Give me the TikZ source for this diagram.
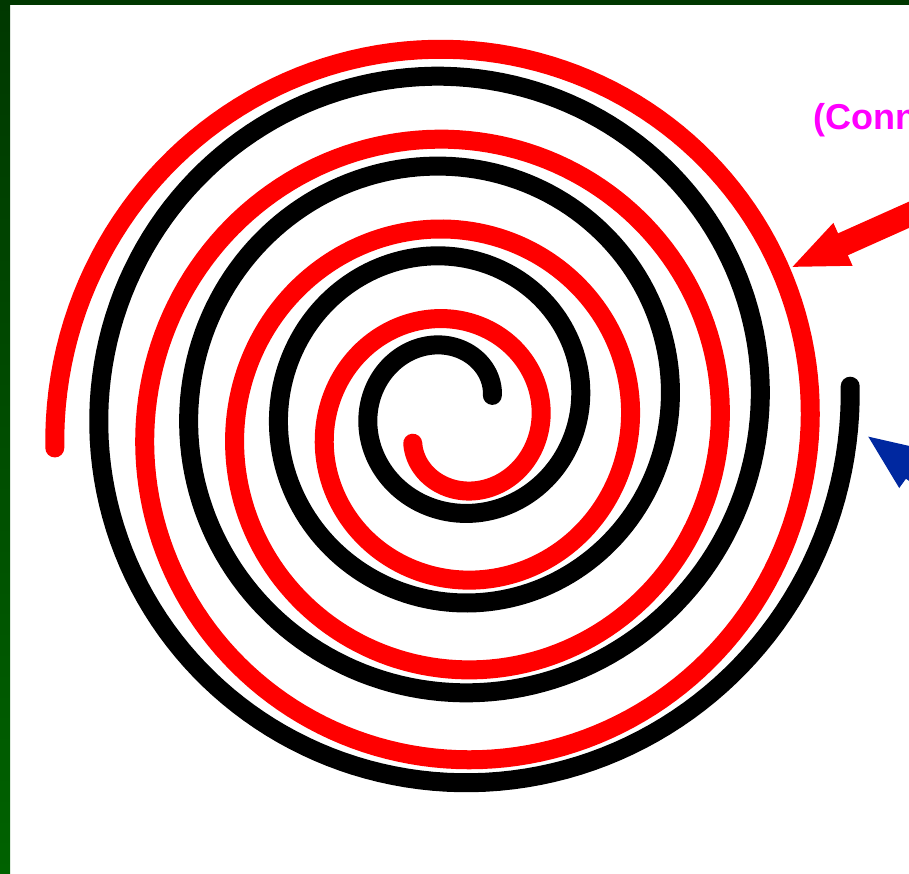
\documentclass[tikz,border=0pt]{standalone}
\usepackage{fontspec}
\newfontfamily\notefont{Liberation Sans}
\usetikzlibrary{arrows.meta}
\definecolor{framedark}{RGB}{0,56,0}
\definecolor{framelight}{RGB}{0,98,0}
\definecolor{notemagenta}{RGB}{255,0,255}
\definecolor{hintblue}{RGB}{0,40,160}
\tikzset{
  coil/.style    ={line width=19pt, line cap=round},
  hintarrow/.style={line width=24pt, -{Triangle[length=58pt, width=42pt]}},
  note/.style    ={font=\notefont\bfseries\fontsize{36}{43}\selectfont,
                   text=notemagenta, inner sep=0pt, anchor=base west}
}

\begin{document}
\begin{tikzpicture}[x=1pt,y=1pt]
\useasboundingbox (0,0) rectangle (909,874);
\clip (0,0) rectangle (909,874);
%% frame of the slide
\fill[framedark] (0,869) rectangle (909,874);
\shade[top color=framedark, bottom color=framelight] (0,0) rectangle (10,874);

%% the two coils
\draw[coil, black] plot[domain=16:1443, samples=700, variable=\t]
  ({452+0.25*(\t+152)*cos(\t)}, {467+0.25*(\t+152)*sin(\t)});
\draw[coil, red] plot[domain=-159:1263, samples=700, variable=\t]
  ({455+0.25*(\t+340)*cos(\t)}, {447+0.25*(\t+340)*sin(\t)});

%% pointers to the outer ends
\coordinate (redtip)   at (790,606);
\coordinate (redtail)  at (960,682);
\coordinate (bluetip)  at (866,439);
\coordinate (bluetail) at (960,371);
\draw[hintarrow, draw=red, fill=red] (redtail) -- (redtip);
\draw[hintarrow, draw=hintblue, fill=hintblue] (bluetail) -- (bluetip);

\node[note] (conn) at (813,744) {(Conn};
\end{tikzpicture}
\end{document}
